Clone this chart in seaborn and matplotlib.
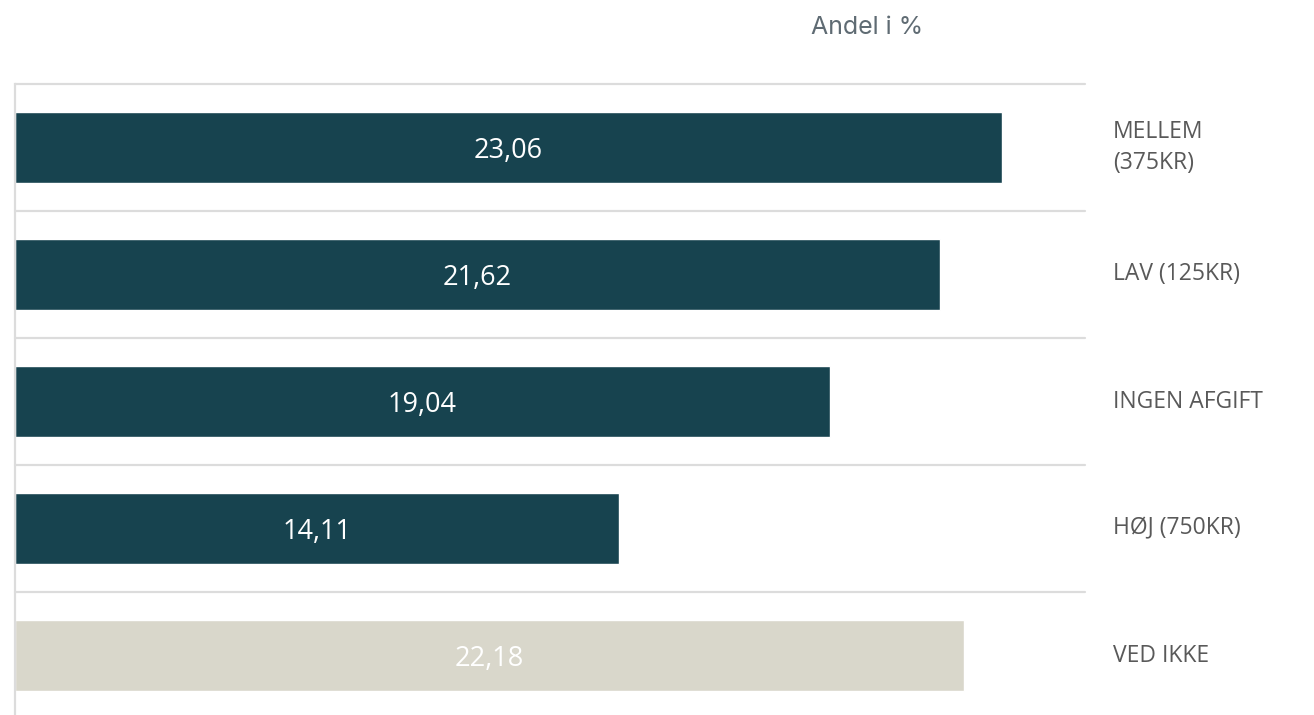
import matplotlib
matplotlib.use("Agg")
import matplotlib.pyplot as plt
import matplotlib.transforms as mtransforms
import seaborn as sns
import pandas as pd

# Data
kategorier = ["MELLEM\n(375KR)", "LAV (125KR)", "INGEN AFGIFT", "HØJ (750KR)", "VED IKKE"]
andel = [23.06, 21.62, 19.04, 14.11, 22.18]
gruppe = ["svar", "svar", "svar", "svar", "ved ikke"]

farver = {"svar": "#17434f", "ved ikke": "#d9d7cb"}

df = pd.DataFrame({"kategori": kategorier, "andel": andel, "gruppe": gruppe})

sns.set_style("white")
plt.rcParams["font.family"] = ["Open Sans", "DejaVu Sans"]

fig = plt.figure(figsize=(13.14, 7.15), dpi=100)
ax = fig.add_axes([15 / 1314, 0, 1070 / 1314, (715 - 84) / 715])

sns.barplot(data=df, x="andel", y="kategori", hue="gruppe", palette=farver,
            orient="h", width=0.56, dodge=False, legend=False, ax=ax,
            saturation=1)

ax.set_xlim(0, 25)
ax.set_ylim(-0.5 + (715 - 84) / 127, -0.5)

# Skillelinjer mellem kategorier
for i in range(len(kategorier) + 1):
    ax.axhline(i - 0.5, color="#dcdcdc", lw=1.6, zorder=0, clip_on=False)

for s in ["top", "right", "bottom"]:
    ax.spines[s].set_visible(False)
ax.spines["left"].set_color("#dcdcdc")
ax.spines["left"].set_linewidth(1.6)

ax.set_xticks([])
ax.set_yticks([])
ax.set_xlabel("")
ax.set_ylabel("")

# Værdier i søjlerne
for i, v in enumerate(andel):
    ax.text(v / 2, i, f"{v:.2f}".replace(".", ","), ha="center",
            va="center_baseline", color="white", fontsize=19.5)

# Kategorinavne til højre
trans = mtransforms.blended_transform_factory(fig.transFigure, ax.transData)
for i, k in enumerate(kategorier):
    ax.text(1113 / 1314, i, k, transform=trans, clip_on=False,
            ha="left", va="center", color="#595959", fontsize=16.5,
            linespacing=1.35)

fig.text(867 / 1314, 1 - 27 / 715, "Andel i %", ha="center", va="center",
         color="#5f6b73", fontsize=18, family=["Inter", "DejaVu Sans"])

fig.savefig("out.png", dpi=100)
